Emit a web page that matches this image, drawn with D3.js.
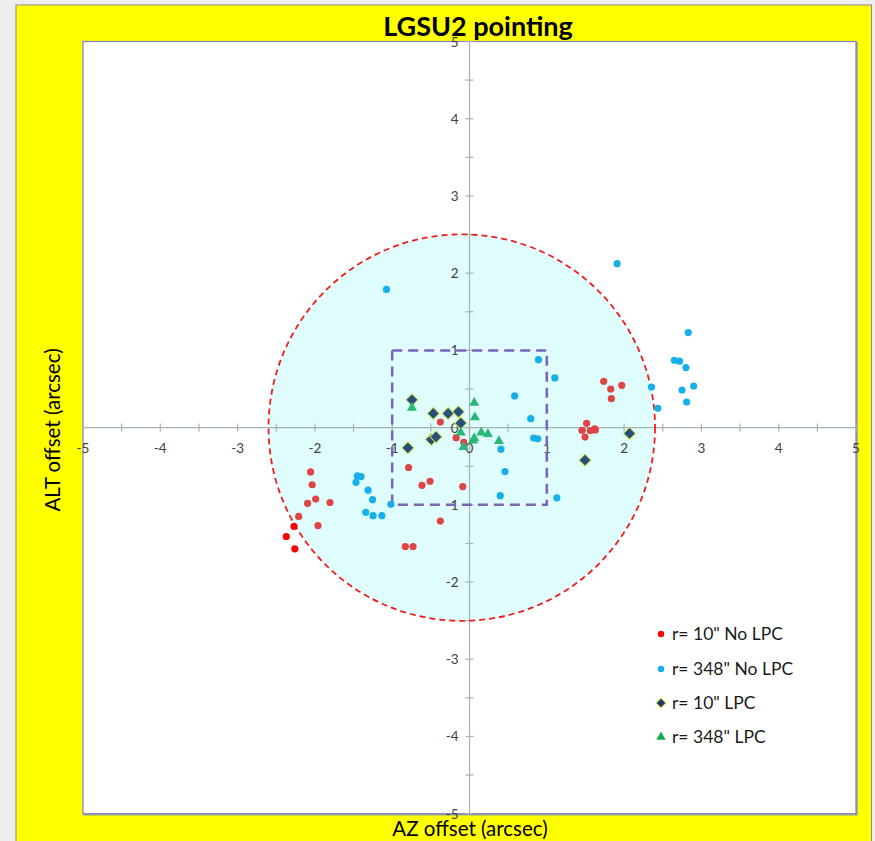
<!DOCTYPE html>
<html><head><meta charset="utf-8">
<script src="https://cdn.jsdelivr.net/npm/d3@7"></script>
<style>
html,body{margin:0;padding:0;background:#eeeeee;}
svg{display:block;font-family:Lato,"Open Sans",sans-serif;}
</style></head>
<body><div id="chart"></div>
<script>
// ---- data ----
const title = "LGSU2 pointing";
const xTitle = "AZ offset (arcsec)";
const yTitle = "ALT offset (arcsec)";
const tickValues = [-5,-4,-3,-2,-1,0,1,2,3,4,5];
const minorTicks = d3.range(-5, 5.01, 0.5);
const circleCenter = [-0.1, 0];
const circleRadius = 2.5;
const squareHalf = 1;

// r=10" No LPC  [AZ, ALT]
const r10NoLPC = [
  [-2.056,-0.574],[-2.035,-0.74],[-1.99,-0.925],[-2.095,-0.98],[-1.805,-0.97],
  [-2.21,-1.15],[-1.96,-1.27],
  [-0.377,0.071],[-0.173,-0.13],[-0.074,-0.19],[-0.788,-0.517],[-0.615,-0.747],
  [-0.51,-0.695],[-0.087,-0.764],[-0.377,-1.21],[-0.83,-1.54],[-0.73,-1.54],
  [1.736,0.6],[1.827,0.5],[1.97,0.548],[1.835,0.374],[1.515,0.055],[1.455,-0.036],
  [1.563,-0.04],[1.62,-0.015],[1.628,-0.03],[1.494,-0.123]
];
// r=10" No LPC, points drawn in pure red
const r10NoLPCBright = [[-2.27,-1.28],[-2.37,-1.41],[-2.26,-1.57]];
// r=348" No LPC
const r348NoLPC = [
  [0.892,0.88],[1.104,0.643],[0.584,0.41],[0.792,0.115],[0.831,-0.136],[0.883,-0.145],
  [0.407,-0.279],[0.459,-0.569],[0.398,-0.881],[1.13,-0.91],
  [-1.45,-0.626],[-1.403,-0.634],[-1.468,-0.708],[-1.312,-0.81],[-1.255,-0.933],
  [-1.017,-0.994],[-1.342,-1.097],[-1.247,-1.14],[-1.134,-1.14],
  [-1.074,1.79],[1.909,2.123],[2.355,0.526],[2.437,0.249],
  [2.83,1.23],[2.65,0.872],[2.718,0.86],[2.80,0.777],[2.90,0.539],[2.749,0.487],[2.81,0.331]
];
// r=10" LPC
const r10LPC = [
  [-0.745,0.36],[-0.468,0.184],[-0.277,0.184],[-0.143,0.205],[-0.113,0.058],
  [-0.494,-0.153],[-0.433,-0.119],[-0.797,-0.262],[2.07,-0.076],[1.494,-0.422]
];
// r=348" LPC
const r348LPC = [
  [-0.745,0.262],[0.061,0.327],[0.069,0.14],[-0.113,-0.058],[0.152,-0.058],
  [0.238,-0.076],[0.061,-0.128],[0.048,-0.163],[0.381,-0.167],[-0.078,-0.245]
];
const legendLabels = ['r= 10" No LPC','r= 348" No LPC','r= 10" LPC','r= 348" LPC'];

// ---- layout ----
const W = 875, H = 841;
const plot = {x0:83, x1:856, y0:41.5, y1:813.7};
const svg = d3.select("#chart").append("svg").attr("width",W).attr("height",H);

svg.append("rect").attr("x",0).attr("y",0).attr("width",W).attr("height",H).attr("fill","#eeeeee");
svg.append("rect").attr("x",16).attr("y",5).attr("width",855.5).attr("height",H)
  .attr("fill","#ffff00").attr("stroke","#8a8a8a").attr("stroke-width",1);

const x = d3.scaleLinear().domain([-5,5]).range([plot.x0, plot.x1]);
const y = d3.scaleLinear().domain([-5,5]).range([plot.y1, plot.y0]);

// plot area
svg.append("rect").attr("x",plot.x0+1).attr("y",plot.y0+1).attr("width",plot.x1-plot.x0).attr("height",plot.y1-plot.y0)
  .attr("fill","none").attr("stroke","#9a9a9a").attr("stroke-width",1.5);
svg.append("rect").attr("x",plot.x0).attr("y",plot.y0).attr("width",plot.x1-plot.x0).attr("height",plot.y1-plot.y0)
  .attr("fill","#ffffff").attr("stroke","#7f7fcc").attr("stroke-width",1.2);

// filled circle
const cr = x(circleRadius)-x(0);
svg.append("circle").attr("cx",x(circleCenter[0])).attr("cy",y(circleCenter[1])).attr("r",cr)
  .attr("fill","#dffdfd");

// axes crossing at 0
const axisColor = "#a8b2b2";
const gx = svg.append("g").attr("transform",`translate(0,${y(0)})`);
gx.append("line").attr("x1",plot.x0).attr("x2",plot.x1).attr("stroke",axisColor).attr("stroke-width",1.2);
gx.selectAll("line.t").data(minorTicks).join("line").attr("class","t")
  .attr("x1",d=>x(d)).attr("x2",d=>x(d)).attr("y1",-4).attr("y2",4)
  .attr("stroke",axisColor).attr("stroke-width",1.2);
const gy = svg.append("g").attr("transform",`translate(${x(0)},0)`);
gy.append("line").attr("y1",plot.y0).attr("y2",plot.y1).attr("stroke",axisColor).attr("stroke-width",1.2);
gy.selectAll("line.t").data(minorTicks).join("line").attr("class","t")
  .attr("y1",d=>y(d)).attr("y2",d=>y(d)).attr("x1",-4).attr("x2",4)
  .attr("stroke",axisColor).attr("stroke-width",1.2);

// tick labels
svg.append("g").selectAll("text").data(tickValues).join("text")
  .attr("x",d=>x(d)).attr("y",y(0)+25).attr("text-anchor","middle")
  .attr("font-size",13.5).attr("fill","#404040").text(d=>d);
svg.append("g").selectAll("text").data(tickValues).join("text")
  .attr("x",x(0)-11).attr("y",d=>y(d)+5).attr("text-anchor","end")
  .attr("font-size",13.5).attr("fill","#404040").text(d=>d);

// dashed circle and square
svg.append("circle").attr("cx",x(circleCenter[0])).attr("cy",y(circleCenter[1])).attr("r",cr)
  .attr("fill","none").attr("stroke","#f21c1c").attr("stroke-width",1.8).attr("stroke-dasharray","6,4");
svg.append("rect").attr("x",x(-squareHalf)).attr("y",y(squareHalf))
  .attr("width",x(squareHalf)-x(-squareHalf)).attr("height",y(-squareHalf)-y(squareHalf))
  .attr("fill","none").attr("stroke","#7b62bd").attr("stroke-width",2.5).attr("stroke-dasharray","10,6");

// series
const cRed = "#e04545", cBright = "#ff0000", cBlue = "#17afe9", cDia = "#264f7c", cDiaStroke = "#d8e85a", cTri = "#28b877";
const diamond = d3.symbol().type(d3.symbolSquare).size(74);
const tri = d3.symbol().type(d3.symbolTriangle).size(44);

svg.append("g").selectAll("circle").data(r10NoLPC).join("circle")
  .attr("cx",d=>x(d[0])).attr("cy",d=>y(d[1])).attr("r",3.6).attr("fill",cRed);
svg.append("g").selectAll("circle").data(r10NoLPCBright).join("circle")
  .attr("cx",d=>x(d[0])).attr("cy",d=>y(d[1])).attr("r",3.6).attr("fill",cBright);
svg.append("g").selectAll("circle").data(r348NoLPC).join("circle")
  .attr("cx",d=>x(d[0])).attr("cy",d=>y(d[1])).attr("r",3.6).attr("fill",cBlue);
svg.append("g").selectAll("path").data(r10LPC).join("path")
  .attr("d",diamond).attr("transform",d=>`translate(${x(d[0])},${y(d[1])}) rotate(45)`)
  .attr("fill",cDia).attr("stroke",cDiaStroke).attr("stroke-width",1);
svg.append("g").selectAll("path").data(r348LPC).join("path")
  .attr("d",tri).attr("transform",d=>`translate(${x(d[0])},${y(d[1])+0.5})`)
  .attr("fill",cTri);

// legend
const lg = svg.append("g");
const ly = [634, 669, 703, 737];
lg.append("circle").attr("cx",661).attr("cy",ly[0]).attr("r",3.2).attr("fill","#ff0000");
lg.append("circle").attr("cx",661).attr("cy",ly[1]).attr("r",3.2).attr("fill",cBlue);
lg.append("path").attr("d",d3.symbol().type(d3.symbolSquare).size(50)).attr("transform",`translate(661,${ly[2]}) rotate(45)`)
  .attr("fill","#1b3a6b").attr("stroke",cDiaStroke).attr("stroke-width",1);
lg.append("path").attr("d",d3.symbol().type(d3.symbolTriangle).size(38)).attr("transform",`translate(661,${ly[3]})`).attr("fill","#1aab4e");
lg.selectAll("text").data(legendLabels).join("text")
  .attr("x",672).attr("y",(d,i)=>ly[i]+6).attr("font-size",17.5).attr("fill","#1a1a1a").text(d=>d);

// titles
svg.append("text").attr("x",478).attr("y",36).attr("text-anchor","middle")
  .attr("font-size",27).attr("font-weight","bold").attr("fill","#000").text(title);
svg.append("text").attr("x",470).attr("y",836).attr("text-anchor","middle")
  .attr("font-size",20.5).attr("fill","#000").text(xTitle);
svg.append("text").attr("transform","translate(60,430) rotate(-90)").attr("text-anchor","middle")
  .attr("font-size",20.5).attr("fill","#000").text(yTitle);
</script></body></html>
